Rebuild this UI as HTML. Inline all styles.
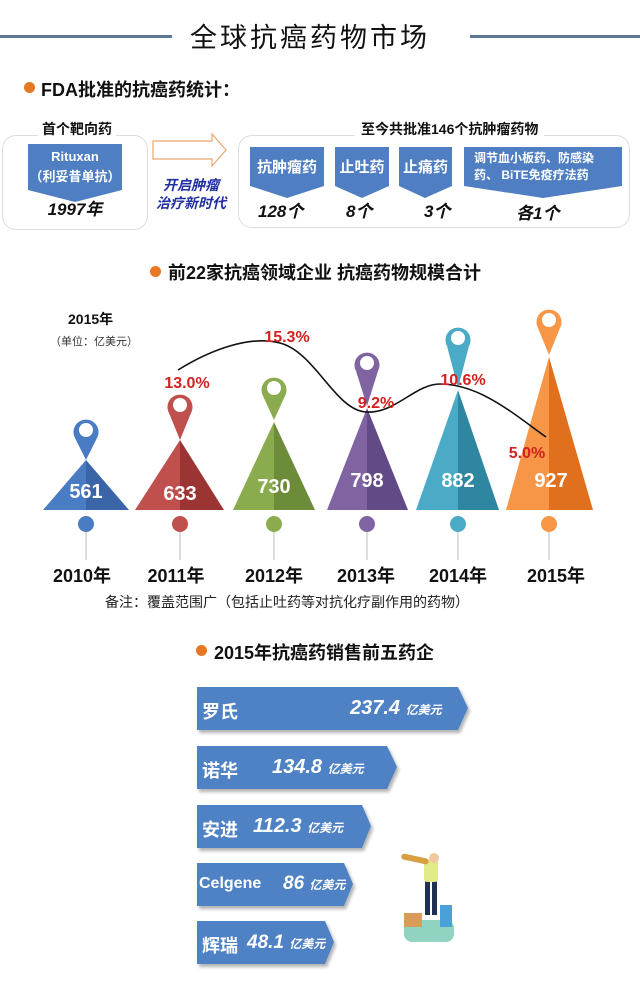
<!DOCTYPE html>
<html><head><meta charset="utf-8"><style>
*{margin:0;padding:0;box-sizing:border-box}
body{width:640px;height:1002px;background:#fff;position:relative;overflow:hidden;font-family:"Liberation Sans","Noto Sans CJK SC",sans-serif;color:#111}
.a{position:absolute;white-space:nowrap}
.b{font-weight:bold}
.dot{position:absolute;width:11px;height:11px;border-radius:50%;background:#e87722}
.box{position:absolute;border:1.5px solid #ddd;border-radius:14px}
.w{color:#fff;font-weight:bold;text-align:center}
</style></head><body>
<!-- header -->
<div class="a" style="left:0;top:35px;width:172px;height:3px;background:#5b7896"></div>
<div class="a" style="left:470px;top:35px;width:170px;height:3px;background:#5b7896"></div>
<div class="a" style="left:190px;top:16px;font-size:27px;letter-spacing:3px;color:#111">全球抗癌药物市场</div>
<div class="dot" style="left:24px;top:82px"></div>
<div class="a b" style="left:41px;top:76px;font-size:18px">FDA批准的抗癌药统计：</div>

<!-- section 1 -->
<div class="box" style="left:2px;top:135px;width:146px;height:95px"></div>
<div class="a b" style="left:38px;top:119px;font-size:14px;background:#fff;padding:0 4px">首个靶向药</div>
<svg class="a" style="left:0;top:0" width="640" height="240">
<polygon points="28,144 122,144 122,190 75,202 28,190" fill="#4f7fc2"/>
<polygon points="153,141 212,141 212,134 226,150 212,166 212,159 153,159" fill="#fff" stroke="#e8a870" stroke-width="1.2"/>
<polygon points="250,147 324,147 324,186 287,198 250,186" fill="#4f7fc2"/>
<polygon points="335,147 389,147 389,186 362,198 335,186" fill="#4f7fc2"/>
<polygon points="399,147 452,147 452,186 425,198 399,186" fill="#4f7fc2"/>
<polygon points="464,147 622,147 622,186 543,198 464,186" fill="#4f7fc2"/>
</svg>
<div class="a w" style="left:28px;top:149px;width:94px;font-size:13px">Rituxan</div>
<div class="a w" style="left:28px;top:166px;width:94px;font-size:13px">（利妥昔单抗）</div>
<div class="a b" style="left:28px;top:195px;width:94px;text-align:center;font-size:17px;font-style:italic">1997年</div>
<div class="a b" style="left:156px;top:176px;width:70px;text-align:center;font-size:14px;font-style:italic;color:#1f2fa0;line-height:18px;white-space:normal">开启肿瘤<br>治疗新时代</div>
<div class="box" style="left:238px;top:135px;width:392px;height:93px"></div>
<div class="a b" style="left:355px;top:119px;font-size:14px;background:#fff;padding:0 6px">至今共批准146个抗肿瘤药物</div>
<div class="a w" style="left:250px;top:156px;width:74px;font-size:15px">抗肿瘤药</div>
<div class="a w" style="left:335px;top:156px;width:54px;font-size:15px">止吐药</div>
<div class="a w" style="left:399px;top:156px;width:53px;font-size:15px">止痛药</div>
<div class="a w" style="left:464px;top:150px;width:158px;font-size:12px;line-height:17px;text-align:left;padding-left:10px">调节血小板药、防感染<br>药、 BiTE免疫疗法药</div>
<div class="a b" style="left:258px;top:197px;font-size:17px;font-style:italic">128个</div>
<div class="a b" style="left:346px;top:197px;font-size:17px;font-style:italic">8个</div>
<div class="a b" style="left:424px;top:197px;font-size:17px;font-style:italic">3个</div>
<div class="a b" style="left:516px;top:199px;font-size:17px;font-style:italic">各1个</div>

<!-- section 2 -->
<div class="dot" style="left:150px;top:266px"></div>
<div class="a b" style="left:168px;top:259px;font-size:18px">前22家抗癌领域企业 抗癌药物规模合计</div>
<div class="a b" style="left:68px;top:309px;font-size:14px">2015年</div>
<div class="a" style="left:50px;top:333px;font-size:11px;color:#333">（单位：亿美元）</div>
<svg class="a" style="left:0;top:300px" width="640" height="300">
<g transform="translate(0,-300)">
<polygon points="86,460 43,510 86,510" fill="#4a7cc4"/><polygon points="86,460 129,510 86,510" fill="#3a66a8"/>
<polygon points="180,440 135,510 180,510" fill="#c0504d"/><polygon points="180,440 224,510 180,510" fill="#9b3533"/>
<polygon points="274,422 233,510 274,510" fill="#8aac4e"/><polygon points="274,422 315,510 274,510" fill="#6d8c3a"/>
<polygon points="367,408 327,510 367,510" fill="#8064a2"/><polygon points="367,408 408,510 367,510" fill="#614a85"/>
<polygon points="458,390 416,510 458,510" fill="#4babc6"/><polygon points="458,390 499,510 458,510" fill="#2f86a0"/>
<polygon points="549,357 506,510 549,510" fill="#f79646"/><polygon points="549,357 593,510 549,510" fill="#e0701e"/>
<g fill="#fff">
<path d="M86,460 L75,438 A12.5,12.5 0 1 1 97,438 Z" fill="#4a7cc4"/><circle cx="86" cy="430" r="7"/>
<path d="M180,440 L169,413 A12.5,12.5 0 1 1 191,413 Z" fill="#c0504d"/><circle cx="180" cy="405" r="7"/>
<path d="M274,420 L263,396 A12.5,12.5 0 1 1 285,396 Z" fill="#8aac4e"/><circle cx="274" cy="388" r="7"/>
<path d="M367,406 L356,371 A12.5,12.5 0 1 1 378,371 Z" fill="#8064a2"/><circle cx="367" cy="363" r="7"/>
<path d="M458,388 L447,346 A12.5,12.5 0 1 1 469,346 Z" fill="#4babc6"/><circle cx="458" cy="338" r="7"/>
<path d="M549,355 L538,328 A12.5,12.5 0 1 1 560,328 Z" fill="#f79646"/><circle cx="549" cy="320" r="7"/>
</g>
<path d="M178,370 C210,350 250,335 280,343 C315,352 335,410 366,412 C395,414 415,384 440,384 C480,384 515,415 546,437" fill="none" stroke="#111" stroke-width="1.6"/>
<g fill="#fff" font-weight="bold" font-size="20" text-anchor="middle" font-family="Liberation Sans">
<text x="86" y="498">561</text><text x="180" y="500">633</text><text x="274" y="493">730</text>
<text x="367" y="487">798</text><text x="458" y="487">882</text><text x="551" y="487">927</text>
</g>
<g fill="#d42020" font-weight="bold" font-size="16" text-anchor="middle" font-family="Liberation Sans">
<text x="187" y="388">13.0%</text><text x="287" y="342">15.3%</text><text x="376" y="408">9.2%</text>
<text x="463" y="385">10.6%</text><text x="527" y="458">5.0%</text>
</g>
<g stroke="#bbb" stroke-width="1">
<line x1="86" y1="522" x2="86" y2="560"/><line x1="180" y1="522" x2="180" y2="560"/><line x1="274" y1="522" x2="274" y2="560"/>
<line x1="367" y1="522" x2="367" y2="560"/><line x1="458" y1="522" x2="458" y2="560"/><line x1="549" y1="522" x2="549" y2="560"/>
</g>
<circle cx="86" cy="524" r="8" fill="#4a7cc4"/><circle cx="180" cy="524" r="8" fill="#c0504d"/><circle cx="274" cy="524" r="8" fill="#8aac4e"/>
<circle cx="367" cy="524" r="8" fill="#8064a2"/><circle cx="458" cy="524" r="8" fill="#4babc6"/><circle cx="549" cy="524" r="8" fill="#f79646"/>
<g fill="#111" font-weight="bold" font-size="18" text-anchor="middle" font-family="Liberation Sans,Noto Sans CJK SC,sans-serif">
<text x="82" y="582">2010年</text><text x="176" y="582">2011年</text><text x="274" y="582">2012年</text>
<text x="366" y="582">2013年</text><text x="458" y="582">2014年</text><text x="556" y="582">2015年</text>
</g>
</g></svg>
<div class="a" style="left:105px;top:592px;font-size:14px;color:#222">备注：覆盖范围广（包括止吐药等对抗化疗副作用的药物）</div>

<!-- section 3 -->
<div class="dot" style="left:196px;top:645px"></div>
<div class="a b" style="left:214px;top:639px;font-size:18px">2015年抗癌药销售前五药企</div>
<svg class="a" style="left:0;top:0" width="640" height="1002">
<defs><filter id="s"><feDropShadow dx="2" dy="3" stdDeviation="1.5" flood-color="#000" flood-opacity="0.3"/></filter></defs>
<g fill="#5082c4" filter="url(#s)">
<polygon points="197,687 458,687 468,708 458,730 197,730"/>
<polygon points="197,746 387,746 397,767 387,789 197,789"/>
<polygon points="197,805 362,805 371,826 362,848 197,848"/>
<polygon points="197,863 344,863 353,884 344,906 197,906"/>
<polygon points="197,921 325,921 334,942 325,964 197,964"/>
</g>
<rect x="404" y="920" width="50" height="22" rx="8" fill="#8fd3c0"/>
<rect x="404" y="913" width="18" height="14" fill="#d99a5c"/>
<rect x="440" y="905" width="12" height="22" fill="#4aa0d8"/>
<rect x="425" y="880" width="5" height="35" fill="#1f3050"/><rect x="432" y="880" width="5" height="35" fill="#1f3050"/>
<rect x="424" y="860" width="14" height="22" rx="3" fill="#e3ea8a"/>
<circle cx="434" cy="858" r="5" fill="#f1c8a0"/>
<rect x="401" y="856" width="28" height="6" rx="3" fill="#d8a040" transform="rotate(12 415 859)"/>
</svg>
<div class="a w" style="left:202px;top:698px;font-size:18px">罗氏</div>
<div class="a w" style="left:350px;top:697px;font-size:20px;font-style:italic">237.4 <span style="font-size:12px">亿美元</span></div>
<div class="a w" style="left:202px;top:757px;font-size:18px">诺华</div>
<div class="a w" style="left:272px;top:756px;font-size:20px;font-style:italic">134.8 <span style="font-size:12px">亿美元</span></div>
<div class="a w" style="left:202px;top:816px;font-size:18px">安进</div>
<div class="a w" style="left:253px;top:815px;font-size:20px;font-style:italic">112.3 <span style="font-size:12px">亿美元</span></div>
<div class="a w" style="left:199px;top:875px;font-size:16px">Celgene</div>
<div class="a w" style="left:283px;top:873px;font-size:19px;font-style:italic">86 <span style="font-size:12px">亿美元</span></div>
<div class="a w" style="left:202px;top:932px;font-size:18px">辉瑞</div>
<div class="a w" style="left:247px;top:932px;font-size:19px;font-style:italic">48.1 <span style="font-size:12px">亿美元</span></div>
</body></html>
